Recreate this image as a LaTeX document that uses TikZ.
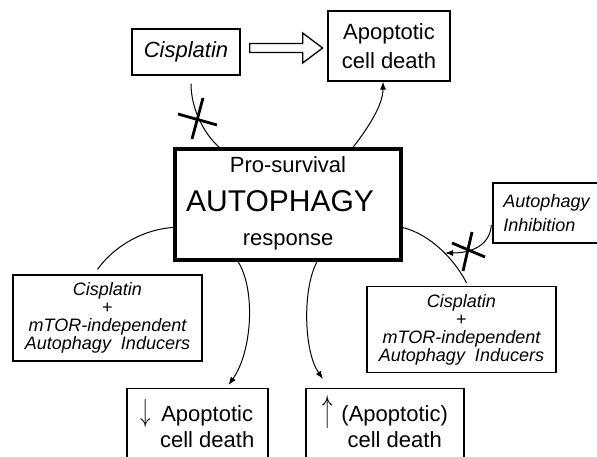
\documentclass[tikz,border=0pt]{standalone}
\usepackage{graphicx}
\usepackage{fontspec}
\setmainfont{Liberation Sans}
\usetikzlibrary{calc}
\usetikzlibrary{arrows.meta}
\tikzset{
	boxstyle/.style={rectangle,draw=black,line width=1.3pt,fill=white,inner sep=0pt,align=center},
	mainstyle/.style={rectangle,draw=black,line width=3.2pt,fill=white,inner sep=0pt,minimum width=226pt,minimum height=111pt},
	wordstyle/.style={anchor=base,inner sep=0pt},
	drugstyle/.style={boxstyle,minimum width=189pt,minimum height=86pt,font=\fontsize{18}{18}\selectfont\itshape},
	deathstyle/.style={boxstyle,anchor=north,inner ysep=15pt,font=\fontsize{22}{26}\selectfont},
	linkstyle/.style={line width=1pt},
	arrowstyle/.style={line width=1pt,-{Latex[length=8pt,width=6pt]}},
	crossstyle/.style={line width=2.8pt},
	pushstyle/.style={draw=black,line width=1.3pt,fill=white,line join=miter}
}
\begin{document}
\begin{tikzpicture}[x=1pt,y=-1pt]
		\useasboundingbox (0,0) rectangle (597,457);
		\node[boxstyle,minimum width=108pt,minimum height=46pt,font=\fontsize{22}{26}\selectfont\itshape] (cis) at (186,52) {Cisplatin};
		\node[boxstyle,minimum width=122pt,minimum height=70pt,font=\fontsize{22}{29}\selectfont] (apop) at (389,46) {Apoptotic\\cell death};
		\node[mainstyle] (auto) at (288,204.5) {};
		\node[wordstyle,font=\fontsize{22}{26}\selectfont] (pro) at ($(auto.north)+(0,25)$) {Pro-survival};
		\node[wordstyle,font=\fontsize{30}{34}\selectfont] (big) at ($(auto.north)+(-8,64)$) {AUTOPHAGY};
		\node[wordstyle,font=\fontsize{22}{26}\selectfont] (resp) at ($(auto.north)+(0,98)$) {response};
		\node[boxstyle,minimum width=107pt,minimum height=60pt,align=left,font=\fontsize{18}{24}\selectfont\itshape] (inhib) at (546.5,213) {Autophagy\\Inhibition};
		\node[drugstyle] (left) at (107.5,318) {Cisplatin\\\upshape+\\mTOR-independent\\Autophagy\ \ Inducers};
		\node[drugstyle] (right) at (461.5,329.5) {Cisplatin\\\upshape+\\mTOR-independent\\Autophagy\ \ Inducers};
		\node[deathstyle,minimum width=141pt] (down) at (197.5,388) {\begin{tabular}{@{}c@{\hspace{9pt}}c@{}}\smash{\scalebox{1}[1.55]{$\downarrow$}} & Apoptotic\\ & cell death\end{tabular}};
		\node[deathstyle,minimum width=158pt] (up) at (385,388) {\begin{tabular}{@{}c@{\hspace{9pt}}c@{}}\smash{\scalebox{1}[1.8]{$\uparrow$}} & (Apoptotic)\\ & cell death\end{tabular}};
		\coordinate (c1) at (199,119);
		\coordinate (c2) at (468,251);
		\coordinate (meet) at (445,253);
		% hollow arrow Cisplatin => apoptosis
		\draw[pushstyle] ($(cis.east)+(9,-8.5)$) -- ++(53,0) -- ++(0,-10.5) -- ++(20,15) -- ++(-20,15) -- ++(0,-10.5) -- ++(-53,0) -- cycle;
		\draw[linkstyle] ($(cis.south)+(5,8)$) .. controls (191,110) and (205,135) .. ($(auto.north west)+(46,0)$);
		\draw[arrowstyle] ($(auto.north)+(65,0)$) .. controls (368,128) and (383,105) .. ($(apop.south)+(-6,0)$);
		\draw[linkstyle] ($(left.north)+(-10,-5)$) .. controls (115,245) and (145,229) .. ($(auto.west)+(0,23)$);
		\draw[arrowstyle] ($(auto.south)+(-50,0)$) .. controls (256,290) and (252,352) .. ($(down.north)+(31,-3)$);
		\draw[arrowstyle] ($(auto.south)+(29,0)$) .. controls (302,290) and (304,352) .. ($(up.north)+(-62,-9)$);
		\draw[linkstyle] ($(auto.east)+(0,23)$) .. controls (430,234) and (455,260) .. ($(right.north)+(5,-3)$);
		\draw[arrowstyle] ($(inhib.west)+(-1,12)$) .. controls (490,245) and (472,253) .. (meet);
		% blocking marks
		\draw[crossstyle] ($(c1)+(-21,-5)$) -- ($(c1)+(18,6)$);
		\draw[crossstyle] ($(c1)+(4,-21)$) -- ($(c1)+(-7,20)$);
		\draw[crossstyle] ($(c2)+(-16,-8)$) -- ($(c2)+(17,6)$);
		\draw[crossstyle] ($(c2)+(4,-19)$) -- ($(c2)+(-5,20)$);
		\end{tikzpicture}
\end{document}
